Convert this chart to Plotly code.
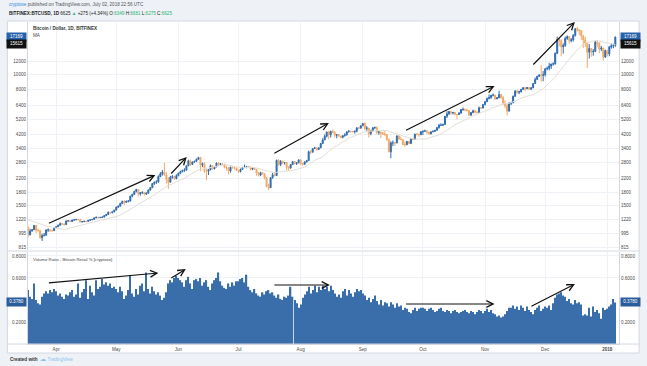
import numpy as np
import pandas as pd
import plotly.graph_objects as go

# ---------------- data (Bitfinex BTCUSD, daily) ----------------
# closes before the visible window (Feb 26 - Mar 17 2017), only used to warm up the MA
pre_close = [1170, 1195, 1190, 1225, 1270, 1285, 1265, 1275, 1285, 1230,
             1150, 1195, 1110, 1215, 1235, 1250, 1255, 1260, 1175, 1085]

close_mar = [975, 1030, 1048, 1115, 1040, 1040, 935, 965, 968, 1045, 1045, 1040, 1035, 1080]
high_mar = [1100, 1065, 1060, 1125, 1120, 1065, 1045, 990, 1000, 1055, 1070, 1060, 1050, 1090]
low_mar = [940, 965, 1020, 1045, 1000, 1020, 920, 890, 950, 965, 1015, 1015, 1020, 1030]
vol_mar = [0.49, 0.43, 0.41, 0.55, 0.40, 0.37, 0.36, 0.43, 0.46, 0.48, 0.46, 0.49, 0.47, 0.50]

close_apr = [1095, 1120, 1145, 1140, 1130, 1190, 1195, 1180, 1205, 1210,
             1218, 1215, 1175, 1180, 1185, 1183, 1200, 1210, 1218, 1245,
             1258, 1252, 1255, 1260, 1285, 1310, 1350, 1345, 1358, 1395]
high_apr = [1100, 1130, 1165, 1160, 1145, 1200, 1205, 1200, 1215, 1218,
            1225, 1228, 1215, 1190, 1195, 1192, 1210, 1218, 1225, 1255,
            1265, 1265, 1262, 1268, 1295, 1315, 1365, 1360, 1365, 1400]
low_apr = [1075, 1090, 1115, 1125, 1115, 1125, 1180, 1170, 1175, 1200,
           1205, 1205, 1160, 1165, 1170, 1170, 1180, 1195, 1205, 1215,
           1240, 1225, 1240, 1240, 1255, 1282, 1305, 1310, 1330, 1350]
vol_apr = [0.48, 0.44, 0.46, 0.43, 0.41, 0.45, 0.44, 0.47, 0.49, 0.43,
           0.45, 0.55, 0.42, 0.47, 0.50, 0.58, 0.41, 0.53, 0.47, 0.44,
           0.58, 0.50, 0.52, 0.59, 0.54, 0.56, 0.53, 0.55, 0.51, 0.52]

close_may = [1455, 1475, 1535, 1580, 1560, 1585, 1590, 1705, 1750, 1830,
             1880, 1765, 1795, 1805, 1760, 1785, 1865, 1930, 2050, 2090,
             2100, 2265, 2360, 2420, 2320, 2180, 2090, 2250, 2270, 2200, 2300]
high_may = [1470, 1490, 1550, 1600, 1610, 1600, 1610, 1720, 1770, 1845,
            1900, 1890, 1810, 1830, 1810, 1800, 1880, 1950, 2060, 2110,
            2150, 2310, 2420, 2500, 2770, 2420, 2250, 2290, 2320, 2300, 2340]
low_may = [1390, 1440, 1470, 1520, 1500, 1545, 1560, 1580, 1680, 1740,
           1800, 1700, 1720, 1760, 1720, 1740, 1770, 1850, 1920, 2010,
           2040, 2080, 2250, 2300, 2300, 2050, 1900, 2080, 2200, 2160, 2180]
vol_may = [0.50, 0.47, 0.52, 0.48, 0.41, 0.44, 0.49, 0.62, 0.46, 0.43,
           0.50, 0.45, 0.53, 0.55, 0.48, 0.65, 0.50, 0.46, 0.52, 0.48,
           0.45, 0.47, 0.44, 0.40, 0.42, 0.47, 0.55, 0.58, 0.56, 0.60, 0.62]

close_jun = [2380, 2440, 2480, 2490, 2650, 2850, 2700, 2800, 2830, 2920,
             2990, 2680, 2730, 2460, 2450, 2510, 2660, 2540, 2610, 2760,
             2700, 2730, 2710, 2600, 2580, 2460, 2600, 2590, 2560, 2480]
high_jun = [2400, 2470, 2510, 2560, 2670, 2900, 2900, 2820, 2850, 2940,
            3020, 3000, 2780, 2800, 2520, 2530, 2700, 2670, 2620, 2780,
            2800, 2760, 2750, 2730, 2650, 2600, 2620, 2610, 2600, 2580]
low_jun = [2280, 2350, 2410, 2430, 2480, 2640, 2650, 2680, 2770, 2810,
           2900, 2450, 2600, 2400, 2150, 2320, 2480, 2510, 2520, 2600,
           2650, 2650, 2690, 2560, 2480, 2350, 2400, 2540, 2510, 2460]
vol_jun = [0.60, 0.58, 0.56, 0.52, 0.58, 0.61, 0.55, 0.50, 0.58, 0.59,
           0.57, 0.60, 0.53, 0.56, 0.58, 0.52, 0.49, 0.55, 0.58, 0.60,
           0.65, 0.57, 0.53, 0.51, 0.50, 0.55, 0.52, 0.56, 0.53, 0.57]

close_jul = [2440, 2520, 2590, 2610, 2620, 2610, 2520, 2560, 2520, 2380,
             2320, 2400, 2360, 2230, 1960, 1930, 2230, 2330, 2300, 2870,
             2700, 2830, 2770, 2780, 2590, 2570, 2700, 2820, 2740, 2770, 2890]
high_jul = [2510, 2550, 2610, 2700, 2640, 2640, 2620, 2580, 2580, 2530,
            2420, 2430, 2430, 2370, 2240, 2040, 2250, 2400, 2420, 2900,
            2920, 2880, 2850, 2800, 2790, 2640, 2710, 2850, 2840, 2790, 2910]
low_jul = [2390, 2410, 2500, 2580, 2560, 2580, 2480, 2490, 2500, 2300,
           2270, 2280, 2340, 2180, 1940, 1860, 1940, 2200, 2280, 2290,
           2650, 2640, 2720, 2700, 2480, 2470, 2540, 2690, 2700, 2680, 2750]
vol_jul = [0.57, 0.59, 0.60, 0.56, 0.63, 0.52, 0.49, 0.47, 0.50, 0.46,
           0.44, 0.43, 0.47, 0.45, 0.48, 0.49, 0.46, 0.47, 0.44, 0.42,
           0.45, 0.41, 0.40, 0.43, 0.42, 0.44, 0.52, 0.43, 0.40, 0.37, 0.33]

close_aug = [2730, 2710, 2800, 2860, 3250, 3230, 3410, 3440, 3360, 3440,
             3660, 3860, 4070, 4330, 4170, 4380, 4290, 4130, 4160, 4080,
             4010, 4100, 4150, 4340, 4370, 4360, 4350, 4390, 4600, 4580, 4740]
high_aug = [2920, 2780, 2830, 2890, 3300, 3330, 3430, 3490, 3440, 3460,
            3700, 3960, 4180, 4350, 4390, 4400, 4490, 4390, 4200, 4200,
            4100, 4130, 4250, 4370, 4460, 4380, 4400, 4400, 4630, 4640, 4750]
low_aug = [2680, 2660, 2700, 2790, 2860, 3150, 3220, 3380, 3300, 3350,
           3430, 3640, 3850, 4000, 3900, 4000, 4270, 4000, 3950, 4050,
           3950, 3950, 4050, 4120, 4290, 4300, 4300, 4230, 4310, 4510, 4550]
vol_aug = [0.36, 0.42, 0.45, 0.48, 0.52, 0.46, 0.49, 0.53, 0.47, 0.52,
           0.49, 0.53, 0.50, 0.52, 0.48, 0.53, 0.49, 0.46, 0.43, 0.45,
           0.42, 0.48, 0.50, 0.44, 0.49, 0.46, 0.43, 0.47, 0.50, 0.48, 0.49]

close_sep = [4900, 4560, 4590, 4230, 4400, 4600, 4630, 4310, 4330, 4250,
             4220, 4170, 3880, 3250, 3700, 3700, 3690, 4090, 3910, 3880,
             3610, 3600, 3780, 3660, 3930, 3890, 4200, 4190, 4160, 4350]
high_sep = [4920, 4980, 4720, 4590, 4470, 4650, 4680, 4700, 4390, 4330,
            4350, 4390, 4200, 3930, 3780, 3830, 3740, 4120, 4120, 4050,
            3900, 3770, 3800, 3800, 3970, 3980, 4220, 4270, 4220, 4370]
low_sep = [4720, 4450, 4400, 4000, 4130, 4380, 4520, 4200, 4160, 3970,
           4150, 4090, 3820, 3220, 2960, 3520, 3540, 3690, 3860, 3850,
           3580, 3500, 3580, 3640, 3650, 3850, 3880, 4120, 4020, 4150]
vol_sep = [0.46, 0.44, 0.40, 0.42, 0.38, 0.41, 0.44, 0.39, 0.36, 0.40,
           0.35, 0.38, 0.37, 0.34, 0.38, 0.36, 0.33, 0.37, 0.34, 0.35,
           0.31, 0.33, 0.32, 0.29, 0.28, 0.31, 0.33, 0.30, 0.32, 0.33]

close_oct = [4390, 4400, 4310, 4220, 4340, 4370, 4440, 4620, 4780, 4780,
             4830, 5440, 5640, 5830, 5700, 5750, 5600, 5580, 5700, 6000,
             6010, 5980, 5900, 5520, 5750, 5890, 5770, 5760, 6150, 6130, 6450]
high_oct = [4410, 4480, 4440, 4350, 4370, 4440, 4460, 4640, 4880, 4920,
            4880, 5450, 5860, 5850, 5880, 5790, 5760, 5600, 5780, 6050,
            6180, 6080, 6050, 5950, 5780, 5990, 5990, 5850, 6260, 6220, 6470]
low_oct = [4150, 4330, 4210, 4150, 4180, 4320, 4350, 4430, 4540, 4730,
           4710, 4820, 5300, 5530, 5570, 5590, 5520, 5200, 5540, 5640,
           5880, 5850, 5860, 5470, 5520, 5680, 5720, 5660, 5720, 6020, 6110]
vol_oct = [0.33, 0.32, 0.30, 0.32, 0.33, 0.31, 0.29, 0.30, 0.32, 0.33,
           0.30, 0.29, 0.31, 0.30, 0.28, 0.30, 0.31, 0.29, 0.28, 0.29,
           0.30, 0.31, 0.29, 0.28, 0.30, 0.29, 0.27, 0.29, 0.31, 0.30, 0.28]

close_nov = [6730, 7030, 7150, 7380, 7400, 7000, 7120, 7450, 7130, 6580,
             6340, 5860, 6520, 6600, 7280, 7840, 7700, 7780, 8040, 8230,
             8100, 8250, 8050, 8230, 8750, 9280, 9720, 9900, 9850, 9950]
high_nov = [6740, 7150, 7450, 7400, 7590, 7420, 7200, 7880, 7480, 7320,
            6850, 6530, 6700, 6730, 7340, 7960, 8000, 7880, 8100, 8300,
            8350, 8300, 8300, 8300, 8790, 9550, 9780, 10000, 11400, 10500]
low_nov = [6380, 6680, 6960, 7000, 7250, 6900, 6980, 7080, 7000, 6420,
           6120, 5500, 5850, 6410, 6630, 7200, 7540, 7500, 7670, 8020,
           7850, 8080, 8000, 8040, 8180, 8700, 9300, 9620, 9000, 9050]
vol_nov = [0.30, 0.32, 0.29, 0.31, 0.28, 0.27, 0.25, 0.26, 0.24, 0.25,
           0.27, 0.30, 0.33, 0.33, 0.35, 0.32, 0.34, 0.31, 0.35, 0.33,
           0.30, 0.34, 0.31, 0.29, 0.27, 0.31, 0.33, 0.35, 0.30, 0.32]

close_dec = [10850, 10930, 11280, 11600, 11650, 13600, 16600, 16300, 14900, 15200,
             16800, 17300, 16300, 16500, 17600, 19350, 19100, 18900, 17500, 16500,
             15700, 13800, 14550, 13850, 13950, 15950, 15700, 14450, 14650, 12850, 14100]
high_dec = [10900, 11200, 11800, 11650, 11900, 13700, 17300, 17200, 16600, 15700,
            17300, 17600, 17300, 16950, 17900, 19600, 19900, 19200, 19000, 17700,
            17200, 15900, 15500, 14600, 14400, 16200, 16500, 15900, 15100, 14700, 14300]
low_dec = [9700, 10600, 10600, 10800, 11350, 11500, 13400, 15000, 13000, 13500,
           14900, 16500, 15600, 15900, 16100, 17300, 18600, 17700, 16500, 14700,
           14900, 10950, 12600, 12900, 13100, 13800, 14800, 13600, 14000, 12200, 12700]
vol_dec = [0.34, 0.33, 0.35, 0.31, 0.37, 0.42, 0.45, 0.46, 0.47, 0.44,
           0.43, 0.39, 0.41, 0.37, 0.36, 0.40, 0.37, 0.38, 0.36, 0.26,
           0.27, 0.26, 0.33, 0.25, 0.34, 0.29, 0.31, 0.28, 0.23, 0.33, 0.31]

close_jan = [13450, 14850, 15150, 15200, 17169]
high_jan = [14100, 15100, 15700, 15600, 17300]
low_jan = [13000, 13000, 14500, 14600, 14900]
vol_jan = [0.32, 0.34, 0.36, 0.41, 0.378]

ma_label = 15615   # MA value shown in the price-scale box
ma_length = 20

price_ticks = [815, 995, 1220, 1500, 1800, 2200, 2800, 3400, 4200, 5200,
               6400, 8000, 10000, 12000, 22000]
vol_ticks = [0.2, 0.6, 0.8]
month_ticks = ["2017-04-01", "2017-05-01", "2017-06-01", "2017-07-01", "2017-08-01",
               "2017-09-01", "2017-10-01", "2017-11-01", "2017-12-01", "2018-01-01"]
month_labels = ["Apr", "May", "Jun", "Jul", "Aug", "Sep", "Oct", "Nov", "Dec", "<b>2018</b>"]

segments = [
    ("2017-03-18", close_mar, high_mar, low_mar, vol_mar),
    ("2017-04-01", close_apr, high_apr, low_apr, vol_apr),
    ("2017-05-01", close_may, high_may, low_may, vol_may),
    ("2017-06-01", close_jun, high_jun, low_jun, vol_jun),
    ("2017-07-01", close_jul, high_jul, low_jul, vol_jul),
    ("2017-08-01", close_aug, high_aug, low_aug, vol_aug),
    ("2017-09-01", close_sep, high_sep, low_sep, vol_sep),
    ("2017-10-01", close_oct, high_oct, low_oct, vol_oct),
    ("2017-11-01", close_nov, high_nov, low_nov, vol_nov),
    ("2017-12-01", close_dec, high_dec, low_dec, vol_dec),
    ("2018-01-01", close_jan, high_jan, low_jan, vol_jan),
]

dates, close, high, low, vol = [], [], [], [], []
for start, c, h, l, v in segments:
    dates += list(pd.date_range(start, periods=len(c), freq="D"))
    close += c
    high += h
    low += l
    vol += v
opens = [pre_close[-1]] + close[:-1]

pre_dates = list(pd.date_range(end="2017-03-17", periods=len(pre_close), freq="D"))
all_dates = pre_dates + dates
ma = pd.Series(pre_close + close).rolling(ma_length).mean()

# ---------------- styling ----------------
W, H = 647, 366
L_PX, R_PX, T_PX, B_PX = 22, 625, 22, 344
UP = "#2e6cb3"
DOWN = "#f3a864"
MA_C = "#e4ded5"
VOL_C = "#3a6eab"
GRID = "#eef1f5"
BORDER = "#d3d8e0"
TXT = "#4a4a4a"
FONT = "Liberation Sans, Arial, sans-serif"
FS = 4.6


def fx(px):
    return (px - L_PX) / (R_PX - L_PX)


def fy(py):
    return (B_PX - py) / (B_PX - T_PX)


main_dom = [fy(250), 1.0]
vol_dom = [0.0, fy(252)]
x_range = ["2017-03-17 23:00", "2018-01-06 20:00"]
y_range = [np.log10(781.5), np.log10(21370)]
v_range = [0, 0.836]

fig = go.Figure()
fig.add_trace(go.Scatter(x=all_dates, y=ma, mode="lines", line=dict(color=MA_C, width=1),
                         xaxis="x2", yaxis="y", hoverinfo="skip"))
fig.add_trace(go.Candlestick(
    x=dates, open=opens, high=high, low=low, close=close, xaxis="x2", yaxis="y",
    increasing=dict(line=dict(color=UP, width=1), fillcolor=UP),
    decreasing=dict(line=dict(color=DOWN, width=1), fillcolor=DOWN),
    whiskerwidth=0))
fig.add_trace(go.Scatter(x=dates[-1:], y=close[-1:], mode="markers", marker=dict(opacity=0),
                         xaxis="x2", yaxis="y3", hoverinfo="skip"))
fig.add_trace(go.Bar(x=dates, y=vol, marker=dict(color=VOL_C, line=dict(width=0)),
                     xaxis="x", yaxis="y2"))
fig.add_trace(go.Scatter(x=dates[-1:], y=vol[-1:], mode="markers", marker=dict(opacity=0),
                         xaxis="x", yaxis="y4", hoverinfo="skip"))

tickfont = dict(family=FONT, size=FS, color=TXT)
price_text = [str(v) for v in price_ticks]
vol_text = [f"{v:.4f}" for v in vol_ticks]

fig.update_layout(
    width=W, height=H, autosize=False,
    margin=dict(l=L_PX, r=W - R_PX, t=T_PX, b=H - B_PX, pad=0),
    paper_bgcolor="#eef1f6", plot_bgcolor="white",
    showlegend=False, bargap=0.35,
    font=dict(family=FONT, size=FS, color=TXT),
    xaxis=dict(domain=[0, 1], anchor="y2", range=x_range, type="date",
               tickmode="array", tickvals=month_ticks, ticktext=month_labels,
               tickfont=tickfont, ticks="", showgrid=True, gridcolor=GRID,
               showline=True, linecolor=BORDER, linewidth=1, zeroline=False,
               rangeslider=dict(visible=False)),
    xaxis2=dict(domain=[0, 1], anchor="y", matches="x", type="date",
                tickmode="array", tickvals=month_ticks, showticklabels=False, ticks="",
                showgrid=True, gridcolor=GRID, showline=False, zeroline=False,
                rangeslider=dict(visible=False)),
    yaxis=dict(domain=main_dom, anchor="x2", type="log", range=y_range, side="left",
               tickmode="array", tickvals=price_ticks, ticktext=price_text,
               tickfont=tickfont, ticks="", showgrid=True, gridcolor=GRID,
               showline=True, linecolor=BORDER, linewidth=1, zeroline=False),
    yaxis3=dict(overlaying="y", anchor="x2", type="log", range=y_range, side="right",
                tickmode="array", tickvals=price_ticks, ticktext=price_text,
                tickfont=tickfont, ticks="", showgrid=False,
                showline=True, linecolor=BORDER, linewidth=1, zeroline=False),
    yaxis2=dict(domain=vol_dom, anchor="x", range=v_range, side="left",
                tickmode="array", tickvals=vol_ticks, ticktext=vol_text,
                tickfont=tickfont, ticks="", showgrid=True, gridcolor=GRID,
                showline=True, linecolor=BORDER, linewidth=1, zeroline=False),
    yaxis4=dict(overlaying="y2", anchor="x", range=v_range, side="right",
                tickmode="array", tickvals=vol_ticks, ticktext=vol_text,
                tickfont=tickfont, ticks="", showgrid=False,
                showline=True, linecolor=BORDER, linewidth=1, zeroline=False),
)

# white chart card and separators
shapes = [
    dict(type="rect", xref="paper", yref="paper", x0=fx(1), x1=fx(645.5), y0=fy(353), y1=fy(21),
         fillcolor="white", line=dict(color=BORDER, width=1), layer="below"),
    dict(type="line", xref="paper", yref="paper", x0=fx(1), x1=fx(645.5), y0=fy(251), y1=fy(251),
         line=dict(color=BORDER, width=1), layer="above"),
    dict(type="line", xref="paper", yref="paper", x0=fx(1), x1=fx(645.5), y0=fy(344), y1=fy(344),
         line=dict(color=BORDER, width=1), layer="above"),
]
fig.update_layout(shapes=shapes)

ann = []
# header
ann.append(dict(xref="paper", yref="paper", x=fx(1), y=fy(5), xanchor="left", yanchor="middle",
                showarrow=False, font=dict(family=FONT, size=FS, color="#555"),
                text='<span style="color:#2a8be0">cryptoxe</span> published on TradingView.com, July 02, 2018 22:56 UTC'))
G = "#2bb673"
ann.append(dict(xref="paper", yref="paper", x=fx(1), y=fy(14), xanchor="left", yanchor="middle",
                showarrow=False, font=dict(family=FONT, size=FS, color="#222"),
                text=(f'<b>BITFINEX:BTCUSD, 1D</b> 6625 <span style="color:{G}">▲</span> +275 (+4.34%) '
                      f'O:<span style="color:{G}">6349</span> H:<span style="color:{G}">6681</span> '
                      f'L:<span style="color:{G}">6275</span> C:<span style="color:{G}">6625</span>')))
# pane titles
ann.append(dict(xref="paper", yref="paper", x=fx(25), y=fy(28.5), xanchor="left", yanchor="middle",
                showarrow=False, font=dict(family=FONT, size=FS, color="#333"),
                text="<b>Bitcoin / Dollar, 1D, BITFINEX</b>"))
ann.append(dict(xref="paper", yref="paper", x=fx(25), y=fy(36), xanchor="left", yanchor="middle",
                showarrow=False, font=dict(family=FONT, size=FS, color="#444"), text="MA"))
ann.append(dict(xref="paper", yref="paper", x=fx(25), y=fy(259), xanchor="left", yanchor="middle",
                showarrow=False, font=dict(family=FONT, size=FS - 0.3, color="#444"),
                text="Volume Ratio - Bitcoin Retail % [cryptoxe]"))
# footer
ann.append(dict(xref="paper", yref="paper", x=fx(2), y=fy(359.5), xanchor="left", yanchor="middle",
                showarrow=False, font=dict(family=FONT, size=FS, color="#333"),
                text="<b>Created with</b>"))
ann.append(dict(xref="paper", yref="paper", x=fx(32), y=fy(359.5), xanchor="left", yanchor="middle",
                showarrow=False, font=dict(family=FONT, size=FS + 1, color="#8cc3ec"),
                text='☁ <span style="font-size:4.6px">TradingView</span>'))

# price-scale boxes (left and right)
def box(y, yref, text, bg):
    out = []
    for side in ("left", "right"):
        out.append(dict(xref="paper", yref=yref, x=(0 if side == "left" else 1), y=y,
                        xanchor=("right" if side == "left" else "left"), yanchor="middle",
                        xshift=(-1 if side == "left" else 0.5),
                        showarrow=False, text=text, bgcolor=bg, width=18, height=6.5,
                        borderpad=0.5, font=dict(family=FONT, size=FS, color="white")))
    return out

ann += box(np.log10(close[-1]), "y", f"{close[-1]:.0f}", "#2862aa")
ann += box(np.log10(ma_label), "y", f"{ma_label}", "#111111")
ann += box(vol[-1], "y2", f"{vol[-1]:.4f}", "#2a5d9c")

# hand-drawn trend arrows (tail px -> head px)
arrows = [
    ((44, 224), (152, 175)), ((167, 175), (184, 157)), ((273, 154), (329, 123)),
    ((408, 131), (498, 86)), ((537, 66), (580, 22)),
    ((44, 283), (155, 273)), ((167, 279), (183, 269)), ((273, 285), (330, 285)),
    ((408, 304), (498, 304)), ((535, 307), (580, 284)),
]
for (tx, ty), (hx, hy) in arrows:
    ann.append(dict(xref="paper", yref="paper", x=fx(hx), y=fy(hy), ax=tx - hx, ay=ty - hy,
                    axref="pixel", ayref="pixel", text="", showarrow=True,
                    arrowhead=5, arrowsize=1.1, arrowwidth=1.2, arrowcolor="#111"))

fig.update_layout(annotations=ann)
fig.write_html(
    "out.html",
    config={"displayModeBar": False},
    post_script="document.body.style.margin='0';document.body.style.overflow='hidden';"
                "document.documentElement.style.overflow='hidden';",
)
